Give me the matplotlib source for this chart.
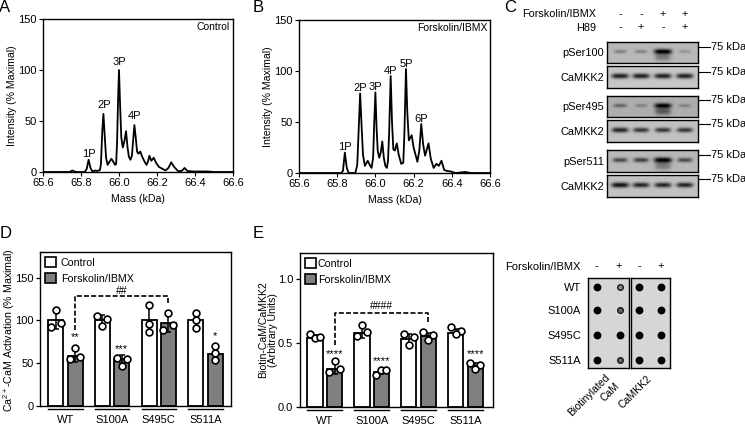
import numpy as np
import matplotlib
matplotlib.use('Agg')
import matplotlib.pyplot as plt

plt.rcParams['font.family'] = ['Liberation Sans', 'DejaVu Sans']
plt.rcParams['font.size'] = 7.8
plt.rcParams['axes.linewidth'] = 1.0
plt.rcParams['mathtext.default'] = 'regular'

W, H = 745, 425

# spectra
mass_a = [65.6, 65.74, 65.755, 65.765, 65.78, 65.82, 65.83, 65.84, 65.85, 65.86, 65.875, 65.885, 65.9, 65.905,
          65.912, 65.918, 65.925, 65.932, 65.94, 65.95, 65.96, 65.97, 65.98, 65.985, 65.99, 65.995, 66.0, 66.005,
          66.012, 66.02, 66.028, 66.037, 66.045, 66.052, 66.06, 66.068, 66.074, 66.081, 66.088, 66.095, 66.102,
          66.112, 66.122, 66.135, 66.145, 66.152, 66.16, 66.17, 66.183, 66.195, 66.21, 66.225, 66.245, 66.26,
          66.275, 66.29, 66.31, 66.33, 66.345, 66.36, 66.39, 66.47, 66.5, 66.6]
int_a = [0, 0, 1.5, 0.5, 0, 0, 3, 12, 4, 0.5, 1.5, 1, 2, 8, 40, 57, 35, 14, 7, 10, 13, 10, 7, 8, 30, 70, 100, 70,
         34, 24, 30, 40, 24, 15, 12, 16, 30, 46, 34, 20, 18, 20, 15, 10, 7, 10, 16, 11, 14, 9, 5, 3.5, 1.5, 4,
         9.5, 5, 1, 1, 4, 1, 0.5, 0.5, 0, 0]
mass_b = [65.6, 65.82, 65.83, 65.84, 65.85, 65.86, 65.895, 65.905, 65.912, 65.92, 65.928, 65.935, 65.945, 65.96,
          65.97, 65.98, 65.988, 65.994, 66.0, 66.006, 66.012, 66.02, 66.028, 66.036, 66.044, 66.052, 66.06, 66.066,
          66.072, 66.08, 66.087, 66.094, 66.102, 66.112, 66.122, 66.135, 66.146, 66.152, 66.16, 66.167, 66.175,
          66.19, 66.2, 66.22, 66.23, 66.24, 66.25, 66.26, 66.278, 66.29, 66.305, 66.32, 66.332, 66.346, 66.36,
          66.375, 66.395, 66.42, 66.47, 66.5, 66.6]
int_b = [0, 0, 2, 20, 5, 0, 0, 8, 40, 78, 45, 18, 7, 12, 8, 5, 15, 50, 79, 45, 22, 15, 20, 31, 15, 7, 5, 12, 40,
         95, 50, 23, 22, 29, 18, 9, 10, 40, 102, 60, 32, 37, 25, 11, 22, 48, 28, 17, 29, 14, 5, 9, 7, 12, 3, 2,
         1.5, 0, 1, 0, 0]

peak_a_x = [65.84, 65.92, 66.0, 66.08]
peak_a_y = [18, 66, 108, 55]
peak_a_txt = ['1P', '2P', '3P', '4P']
peak_b_x = [65.84, 65.92, 66.0, 66.08, 66.16, 66.24]
peak_b_y = [25, 83, 84, 100, 107, 53]
peak_b_txt = ['1P', '2P', '3P', '4P', '5P', '6P']
mass_ticks = [65.6, 65.8, 66.0, 66.2, 66.4, 66.6]

# bar panels
groups = ['WT', 'S100A', 'S495C', 'S511A']
d_bars = [100, 59, 100, 55, 100, 97, 100, 61]
d_err = [10, 7, 6, 5, 16, 10, 9, 8]
d_points = [[112, 92, 97], [68, 55, 57], [105, 102, 93], [56, 55, 47],
            [118, 96, 87], [109, 95, 89], [109, 100, 91], [70, 62, 54]]
d_offset = [[0, -0.26, 0.26], [0, -0.26, 0.26], [-0.26, 0.22, 0], [-0.26, 0.26, 0],
            [0, 0, 0], [0, 0.24, -0.26], [0, 0, 0], [0, 0, 0]]
d_stars = {1: ('**', 80), 3: ('***', 67), 7: ('*', 82)}

e_bars = [0.54, 0.30, 0.58, 0.275, 0.53, 0.55, 0.58, 0.32]
e_err = [0.02, 0.045, 0.04, 0.02, 0.04, 0.03, 0.03, 0.02]
e_points = [[0.566, 0.534, 0.542], [0.355, 0.27, 0.297], [0.637, 0.553, 0.587], [0.25, 0.29, 0.287],
            [0.57, 0.545, 0.487], [0.584, 0.56, 0.52], [0.626, 0.592, 0.571], [0.342, 0.329, 0.297]]
e_offset = [[-0.26, 0, 0.26], [0, -0.26, 0.26], [0, -0.26, 0.24], [-0.26, 0, 0.26],
            [-0.26, 0.26, 0], [-0.26, 0.26, 0], [-0.26, 0.26, 0], [-0.28, 0.24, 0]]
e_stars = {1: ('****', 0.41), 3: ('****', 0.36), 7: ('****', 0.41)}

bar_x = [0, 1, 2.41, 3.41, 4.82, 5.82, 7.23, 8.23]

# western blots: band darkness per lane, plus smear below the band
blot_names = ['pSer100', 'CaMKK2', 'pSer495', 'CaMKK2', 'pSer511', 'CaMKK2']
blot_bands = [[0.3, 0.3, 1.0, 0.2], [0.9, 0.9, 0.9, 0.9], [0.4, 0.25, 0.9, 0.25],
              [0.85, 0.75, 0.75, 0.75], [0.6, 0.65, 1.0, 0.6], [0.95, 0.85, 0.85, 0.85]]
blot_smear = [[0, 0, 0.25, 0], [0, 0, 0, 0], [0, 0, 0.35, 0], [0, 0, 0, 0], [0, 0, 0.25, 0], [0, 0, 0, 0]]
blot_back = [0.72, 0.78, 0.68, 0.76, 0.72, 0.76]
blot_box = [(607, 42, 698, 63), (607, 66, 698, 88), (607, 96, 698, 117),
            (607, 120, 698, 142), (607, 150, 698, 172), (607, 175, 698, 197)]
blot_tick = [47, 72, 100, 124, 155, 179]

# dot blot, darkness of each spot
dot_rows = ['WT', 'S100A', 'S495C', 'S511A']
dot_left = [[1.0, 0.55], [1.0, 0.7], [1.0, 1.0], [0.95, 0.7]]
dot_right = [[1.0, 1.0], [1.0, 1.0], [1.0, 1.0], [1.0, 1.0]]


def box(x0, y0, x1, y1):
    return fig.add_axes([x0 / W, 1 - y1 / H, (x1 - x0) / W, (y1 - y0) / H])


def ftext(x, y, s, **kw):
    kw.setdefault('ha', 'center')
    kw.setdefault('va', 'center')
    fig.text(x / W, 1 - y / H, s, **kw)


def spectrum(ax, x, y, px, py, ptxt, label):
    ax.plot(x, y, color='k', lw=1.3, solid_joinstyle='round')
    ax.set_xlim(65.6, 66.6)
    ax.set_ylim(0, 150)
    ax.set_xticks(mass_ticks)
    ax.set_yticks([0, 50, 100, 150])
    ax.tick_params(length=3, width=0.8, pad=1.5, labelsize=8)
    ax.set_xlabel('Mass (kDa)', fontsize=7.6, labelpad=4)
    ax.set_ylabel('Intensity (% Maximal)', fontsize=7.6)
    ax.yaxis.set_label_coords(-0.135, 0.5)
    for a, b, t in zip(px, py, ptxt):
        ax.text(a, b, t, ha='center', va='center', fontsize=8)
    ax.text(0.985, 0.945, label, transform=ax.transAxes, ha='right', va='center', fontsize=7.5)


def bars(ax, vals, errs, pts, offs, stars, ymax, yticks, yfmt, x0, x1, textpad):
    for i in range(8):
        c = 'white' if i % 2 == 0 else '#7f7f7f'
        ax.bar(bar_x[i], vals[i], width=0.78, color=c, edgecolor='k', lw=1.3, zorder=2)
        ax.errorbar(bar_x[i], vals[i], yerr=errs[i], color='k', lw=1.1, capsize=2.3, capthick=1.1, zorder=3)
        ax.scatter([bar_x[i] + o for o in offs[i]], pts[i], s=24, facecolor='white', edgecolor='k',
                   lw=1.2, zorder=4)
    for i, (s, y) in stars.items():
        ax.text(bar_x[i], y, s, ha='center', va='center', fontsize=8)
    ax.set_xlim(x0, x1)
    ax.set_ylim(0, ymax)
    ax.set_xticks([])
    ax.set_yticks(yticks)
    ax.set_yticklabels([yfmt % t for t in yticks])
    ax.tick_params(length=3, width=0.9, pad=1.5, labelsize=8)
    tr = ax.get_xaxis_transform()
    for j, g in enumerate(groups):
        a, b = bar_x[2 * j], bar_x[2 * j + 1]
        ax.plot([a - 0.39, b + 0.39], [-0.022, -0.022], color='k', lw=1.0, transform=tr, clip_on=False)
        ax.text((a + b) / 2, -0.092, g, transform=tr, ha='center', va='center', fontsize=8)
    h = [plt.Rectangle((0, 0), 1, 1, fc='white', ec='k', lw=1.2),
         plt.Rectangle((0, 0), 1, 1, fc='#7f7f7f', ec='k', lw=1.2)]
    ax.legend(h, ['Control', 'Forskolin/IBMX'], loc='upper left', frameon=False, fontsize=7.7,
              handlelength=1.0, handleheight=1.0, labelspacing=0.5, handletextpad=textpad,
              borderaxespad=0.25, borderpad=0.25)


def bracket(ax, xa, xb, ytop, ya, yb, s, ys):
    ax.plot([xa, xa, xb, xb], [ya, ytop, ytop, yb], color='k', lw=1.2, ls=(0, (3, 1.3)), zorder=5)
    ax.text((xa + xb) / 2, ys, s, ha='center', va='center', fontsize=7.5)


def blot(ax, bands, smear, back):
    xx, yy = np.meshgrid(np.linspace(0, 91, 182), np.linspace(0, 22, 44))
    img = np.full(xx.shape, back, dtype=float)
    for c, b, m in zip([13, 34, 56, 78], bands, smear):
        w = 5 + 4 * b
        h = 1.5 + 1.2 * b
        img -= 0.75 * b * np.exp(-((xx - c) / w) ** 4 - ((yy - 10) / h) ** 2)
        img -= m * np.exp(-((xx - c) / 8) ** 4 - ((yy - 16) / 4) ** 2)
    ax.imshow(np.clip(img, 0, 1), cmap='gray', vmin=0, vmax=1, aspect='auto', interpolation='bilinear')
    ax.set_xticks([])
    ax.set_yticks([])


fig = plt.figure(figsize=(W / 100, H / 100), dpi=100)

# A, B
ax = box(43, 19, 233, 172)
spectrum(ax, mass_a, int_a, peak_a_x, peak_a_y, peak_a_txt, 'Control')
ax = box(299, 20, 490, 173)
spectrum(ax, mass_b, int_b, peak_b_x, peak_b_y, peak_b_txt, 'Forskolin/IBMX')

# C
ftext(596, 14, 'Forskolin/IBMX', ha='right', fontsize=7.8)
ftext(596, 28, 'H89', ha='right', fontsize=7.8)
for x, a, b in zip([620, 641, 663, 685], ['-', '-', '+', '+'], ['-', '+', '-', '+']):
    ftext(x, 14, a)
    ftext(x, 27, b)
for i, (x0, y0, x1, y1) in enumerate(blot_box):
    ax = box(x0, y0, x1, y1)
    blot(ax, blot_bands[i], blot_smear[i], blot_back[i])
    ftext(604, (y0 + y1) / 2 + 1, blot_names[i], ha='right', fontsize=7.9)
    t = blot_tick[i]
    fig.add_artist(plt.Line2D([x1 / W, 710 / W], [1 - t / H, 1 - t / H], color='k', lw=0.8))
    ftext(711, t, '75 kDa', ha='left', fontsize=8)

# D
ax = box(40, 252, 231, 406)
bars(ax, d_bars, d_err, d_points, d_offset, d_stars, 180, [0, 50, 100, 150], '%d', -0.81, 9.05, 0.45)
bracket(ax, 1, 5.82, 128, 89, 119, '##', 135)
ax.set_ylabel('Ca$^{2+}$-CaM Activation (% Maximal)', fontsize=7.7)
ax.yaxis.set_label_coords(-0.122, 0.49)

# E
ax = box(299.5, 253, 493, 407)
bars(ax, e_bars, e_err, e_points, e_offset, e_stars, 1.2, [0.0, 0.5, 1.0], '%.1f', -0.8, 9.15, 0.2)
bracket(ax, 1, 5.82, 0.73, 0.48, 0.665, '####', 0.79)
ax.set_ylabel('Biotin-CaM/CaMKK2\n(Arbitrary Units)', fontsize=7.6, linespacing=1.05)
ax.yaxis.set_label_coords(-0.11, 0.5)

# dot blot
for (x0, x1, spots) in [(588, 628.5, dot_left), (630.5, 670, dot_right)]:
    ax = box(x0, 278, x1, 368)
    ax.set_facecolor('#d6d6d6')
    ax.set_xlim(x0, x1)
    ax.set_ylim(368, 278)
    ax.set_xticks([])
    ax.set_yticks([])
    cols = [597, 620] if x0 < 600 else [638.5, 661]
    for y, row in zip([287, 310, 335, 360], spots):
        for c, s in zip(cols, row):
            if s > 0.8:
                ax.scatter(c, y, s=32, color='k', lw=0)
            else:
                g = 1 - s + 0.1
                ax.scatter(c, y, s=16, color=(g, g, g), edgecolor='#222222', lw=1.1)
ftext(581, 267, 'Forskolin/IBMX', ha='right', fontsize=8)
for x, s in zip([596, 619, 639, 661], ['-', '+', '-', '+']):
    ftext(x, 266, s, fontsize=8)
for y, s in zip([288, 311, 336, 361], dot_rows):
    ftext(581, y, s, ha='right', fontsize=8)
ftext(608, 376, 'Biotinylated', rotation=45, ha='right', va='center', rotation_mode='anchor', fontsize=7.6)
ftext(618, 384, 'CaM', rotation=45, ha='right', va='center', rotation_mode='anchor', fontsize=7.6)
ftext(650, 377, 'CaMKK2', rotation=45, ha='right', va='center', rotation_mode='anchor', fontsize=7.6)

# panel letters
for x, y, s in [(5, 8, 'A'), (258, 8, 'B'), (510, 8, 'C'), (6, 233, 'D'), (258, 233, 'E')]:
    ftext(x, y, s, fontsize=12)

fig.savefig('out.png', dpi=100)
